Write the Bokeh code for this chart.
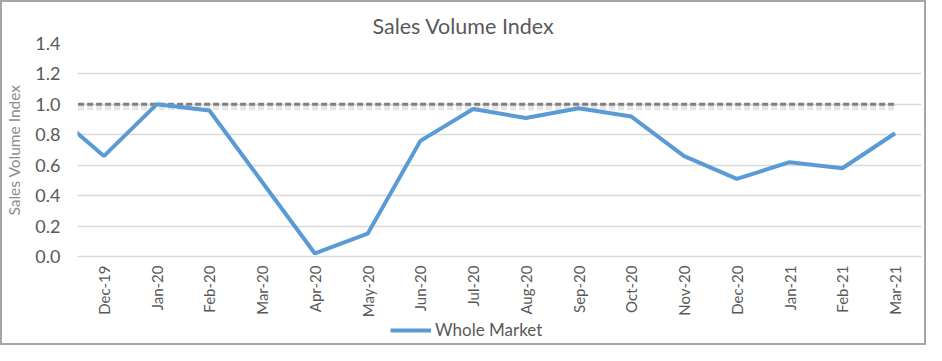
from bokeh.plotting import figure
from bokeh.layouts import column
from bokeh.models import (Range1d, FixedTicker, Legend, LegendItem,
                          ColumnDataSource, PrintfTickFormatter)
from bokeh.transform import dodge
from bokeh.embed import file_html
from bokeh.resources import INLINE

# ---- data ----
months = ["Nov-19", "Dec-19", "Jan-20", "Feb-20", "Mar-20", "Apr-20", "May-20",
          "Jun-20", "Jul-20", "Aug-20", "Sep-20", "Oct-20", "Nov-20", "Dec-20",
          "Jan-21", "Feb-21", "Mar-21"]
whole_market = [0.96, 0.66, 1.00, 0.96, 0.49, 0.02, 0.15, 0.76, 0.97, 0.91,
                0.975, 0.92, 0.66, 0.51, 0.62, 0.58, 0.81]
benchmark = [1.0, 1.0, 1.0, 1.0, 1.0, 1.0, 1.0, 1.0, 1.0, 1.0, 1.0, 1.0,
             1.0, 1.0, 1.0, 1.0, 1.0]
y_ticks = [0.0, 0.2, 0.4, 0.6, 0.8, 1.0, 1.2, 1.4]

pos = list(range(len(months)))
src = ColumnDataSource(dict(x=pos, wm=whole_market, bm=benchmark))

FONT = "Lato"
TXT = "#595959"
BORDER = "2px solid #a6a6a6"
BLUE = "#5B9BD5"

p = figure(width=926, height=318, output_backend="svg", toolbar_location=None,
           x_range=Range1d(0.5, len(months) - 0.5), y_range=Range1d(0, 1.4),
           min_border_left=75, min_border_right=7, min_border_top=41,
           min_border_bottom=61, title="Sales Volume Index")
p.styles = {"border": BORDER, "border-bottom": "none",
            "box-sizing": "border-box"}

p.title.align = "left"
p.title.offset = 295
p.title.text_font = FONT
p.title.text_font_size = "21.5px"
p.title.text_font_style = "normal"
p.title.text_color = TXT

p.outline_line_color = None
p.background_fill_color = "white"
p.border_fill_color = "white"

# axes
p.xaxis.ticker = FixedTicker(ticks=pos[1:])
p.xaxis.major_label_overrides = {i: m for i, m in zip(pos, months)}
p.xaxis.major_label_orientation = 3.14159265 / 2
p.xaxis.major_label_text_font = FONT
p.xaxis.major_label_text_font_size = "15px"
p.xaxis.major_label_text_color = TXT
p.xaxis.major_label_standoff = 9
p.xaxis.major_tick_out = 0
p.xaxis.major_tick_in = 0
p.xaxis.axis_line_color = "#d9d9d9"
p.xaxis.axis_line_width = 1.5
p.xaxis.major_tick_line_color = None
p.xaxis.minor_tick_line_color = None

p.yaxis.ticker = FixedTicker(ticks=y_ticks)
p.yaxis.formatter = PrintfTickFormatter(format="%.1f")
p.yaxis.major_label_text_font = FONT
p.yaxis.major_label_text_font_size = "18px"
p.yaxis.major_label_text_color = TXT
p.yaxis.major_label_standoff = 17
p.yaxis.major_tick_out = 0
p.yaxis.major_tick_in = 0
p.yaxis.axis_line_color = None
p.yaxis.major_tick_line_color = None
p.yaxis.minor_tick_line_color = None
p.yaxis.axis_label = "Sales Volume Index"
p.yaxis.axis_label_text_font = FONT
p.yaxis.axis_label_text_font_size = "15.5px"
p.yaxis.axis_label_text_font_style = "normal"
p.yaxis.axis_label_text_color = "#8c8c8c"
p.yaxis.axis_label_standoff = 9

p.xgrid.grid_line_color = None
p.ygrid.grid_line_color = "#d9d9d9"
p.ygrid.grid_line_width = 1.5

# benchmark line with soft shadow
p.line(x="x", y=dodge("bm", -0.022), source=src, line_color="#c8c8c8",
       line_width=5, line_alpha=0.45, line_dash="6 3")
p.line(x="x", y="bm", source=src, line_color="#808080", line_width=3,
       line_dash="6 3")
p.line(x="x", y="wm", source=src, line_color=BLUE, line_width=4)

# ---- legend strip (separate figure under the chart) ----
lp = figure(width=926, height=27, output_backend="svg", toolbar_location=None,
            x_axis_type=None, y_axis_type=None,
            x_range=Range1d(0.5, len(months) - 0.5), y_range=Range1d(5, 6),
            min_border=0)
lp.styles = {"border": BORDER, "border-top": "none",
             "box-sizing": "border-box"}
lp.outline_line_color = None
lp.grid.grid_line_color = None
lp.background_fill_color = "white"
lp.border_fill_color = "white"
r = lp.line(x="x", y="wm", source=src, line_color=BLUE, line_width=4)

legend = Legend(items=[LegendItem(label="Whole Market", renderers=[r])],
                location=(313, 5), orientation="horizontal",
                border_line_color=None, background_fill_alpha=0,
                margin=0, padding=0, glyph_width=41,
                glyph_height=20, label_height=20, label_standoff=4,
                label_text_font=FONT, label_text_font_size="17px",
                label_text_color=TXT)
lp.add_layout(legend, "center")

layout = column(p, lp, spacing=0)
open("out.html", "w").write(file_html(layout, INLINE))
